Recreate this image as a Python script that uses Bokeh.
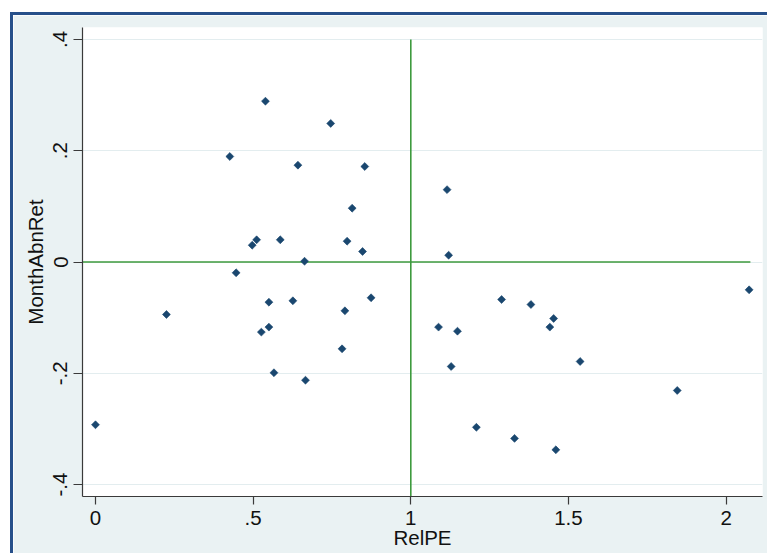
from bokeh.plotting import figure
from bokeh.models import FixedTicker, Range1d
from bokeh.embed import file_html
from bokeh.resources import INLINE

# ---- data ----
relpe = [0.00, 0.225, 0.426, 0.446, 0.497, 0.511, 0.539, 0.526, 0.550, 0.550,
         0.566, 0.586, 0.626, 0.642, 0.663, 0.666, 0.746, 0.782, 0.791, 0.798,
         0.814, 0.847, 0.854, 0.874, 1.088, 1.115, 1.120, 1.128, 1.148, 1.208,
         1.288, 1.329, 1.381, 1.441, 1.453, 1.460, 1.537, 1.845, 2.073]
month_abn_ret = [-0.2925, -0.0943, 0.1896, -0.0194, 0.0302, 0.0399, 0.289, -0.126, -0.0722, -0.117,
                 -0.199, 0.0399, -0.0697, 0.174, 0.0014, -0.2124, 0.249, -0.156, -0.0877, 0.0374,
                 0.0967, 0.0189, 0.1716, -0.0643, -0.117, 0.130, 0.0122, -0.1878, -0.1243, -0.297,
                 -0.0674, -0.317, -0.0764, -0.117, -0.1015, -0.3375, -0.1788, -0.2309, -0.050]

x_ticks = [0, 0.5, 1, 1.5, 2]
x_tick_labels = ["0", ".5", "1", "1.5", "2"]
y_ticks = [-0.4, -0.2, 0, 0.2, 0.4]
y_tick_labels = ["-.4", "-.2", "0", ".2", ".4"]

# reference lines
xref = 1.0
yref = 0.0
xref_span = [0.4, -0.4214]      # vertical line from y=.4 to bottom
yref_span = [-0.0412, 2.077]    # horizontal line extent

x_range = (-0.0412, 2.1154)
y_range = (-0.4214, 0.4214)

BG = "#EAF2F3"
NAVY = "#1A476F"
GREEN = "#3E9A3E"
FONT = "Liberation Sans"
FS = "20.5px"

p = figure(frame_width=680, frame_height=469,
           min_border_left=69, min_border_top=12, min_border_right=8, min_border_bottom=60,
           output_backend="svg", toolbar_location=None,
           x_range=Range1d(*x_range), y_range=Range1d(*y_range))
p.margin = (12, 0, 0, 10)
p.styles = {"border-top": "3px solid #27508A", "border-left": "3px solid #27508A"}

p.background_fill_color = "white"
p.border_fill_color = BG
p.outline_line_color = None

# grid
p.xgrid.visible = False
p.ygrid.ticker = FixedTicker(ticks=y_ticks)
p.ygrid.grid_line_color = "#E3EDEF"
p.ygrid.grid_line_width = 1

# reference lines
p.segment(x0=[xref], y0=[xref_span[0]], x1=[xref], y1=[xref_span[1]],
          line_color=GREEN, line_width=1.6)
p.segment(x0=[yref_span[0]], y0=[yref], x1=[yref_span[1]], y1=[yref],
          line_color=GREEN, line_width=1.6)

# points
p.scatter(relpe, month_abn_ret, marker="square", angle=0.7854, size=5.6,
          fill_color=NAVY, line_color=NAVY, line_width=0.6)

# axes
for ax in (p.xaxis[0], p.yaxis[0]):
    ax.axis_line_color = "#3a3a3a"
    ax.axis_line_width = 1.2
    ax.major_tick_line_color = "#3a3a3a"
    ax.major_tick_line_width = 1.2
    ax.major_tick_in = 0
    ax.minor_tick_line_color = None
    ax.major_label_text_font = FONT
    ax.major_label_text_font_size = FS
    ax.major_label_text_color = "#111111"
    ax.axis_label_text_font = FONT
    ax.axis_label_text_font_size = FS
    ax.axis_label_text_font_style = "normal"
    ax.axis_label_text_color = "#111111"

p.xaxis.ticker = FixedTicker(ticks=x_ticks)
p.xaxis.major_label_overrides = dict(zip(x_ticks, x_tick_labels))
p.xaxis.major_tick_out = 8
p.xaxis.major_label_standoff = 6
p.xaxis.axis_label = "RelPE"
p.xaxis.axis_label_standoff = -2

p.yaxis.ticker = FixedTicker(ticks=y_ticks)
p.yaxis.major_label_overrides = dict(zip(y_ticks, y_tick_labels))
p.yaxis.major_tick_out = 9
p.yaxis.major_label_standoff = 6
p.yaxis.major_label_orientation = "vertical"
p.yaxis.axis_label = "MonthAbnRet"
p.yaxis.axis_label_standoff = 4

open("out.html", "w").write(file_html(p, INLINE))
